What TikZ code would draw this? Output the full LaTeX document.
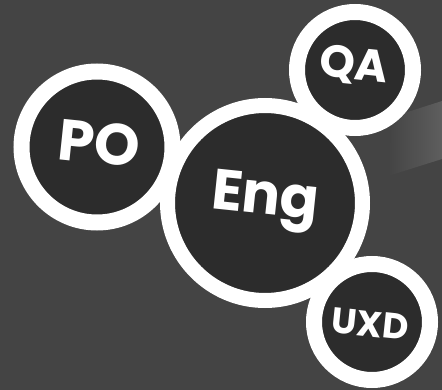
\documentclass[tikz,border=0pt]{standalone}
\usepackage{fontspec}
\setmainfont{Poppins}
\definecolor{bg}{HTML}{444444}
\definecolor{disc}{HTML}{2C2C2C}
\definecolor{beam}{HTML}{5E5E5E}
\begin{document}
\begin{tikzpicture}[x=1pt,y=-1pt,
  team/.style={circle, fill=disc, draw=white, line width=16pt, inner sep=0pt},
  lbl/.style={text=white, font=\bfseries, inner sep=0pt, rotate=-6}]
  % canvas
  \fill[bg] (0,0) rectangle (442,390);
  \useasboundingbox (0,0) rectangle (442,390);
  % soft light beam entering from the right
  \shade[left color=bg, right color=beam]
    (392,117) -- (442,101) -- (442,159) -- (388,176) -- cycle;
  % team circles
  \node[team, minimum size=151pt] (po) at (97,147) {};
  \node[team, minimum size=116pt] (qa) at (355,70) {};
  \node[team, minimum size=116pt] (uxd) at (372,322) {};
  \node[team, minimum size=195pt, line width=15pt] (eng) at (265,203) {};
  % labels
  \node[lbl, font=\bfseries\fontsize{58}{58}\selectfont] (potext) at (99,143) {PO};
  \node[lbl, font=\bfseries\fontsize{57}{57}\selectfont] (engtext) at (265,202) {Eng};
  \node[lbl, font=\bfseries\fontsize{45}{45}\selectfont] (qatext) at (354,66) {QA};
  \node[lbl, font=\bfseries\fontsize{36}{36}\selectfont] (uxdtext) at (370,324) {UXD};
\end{tikzpicture}
\end{document}
